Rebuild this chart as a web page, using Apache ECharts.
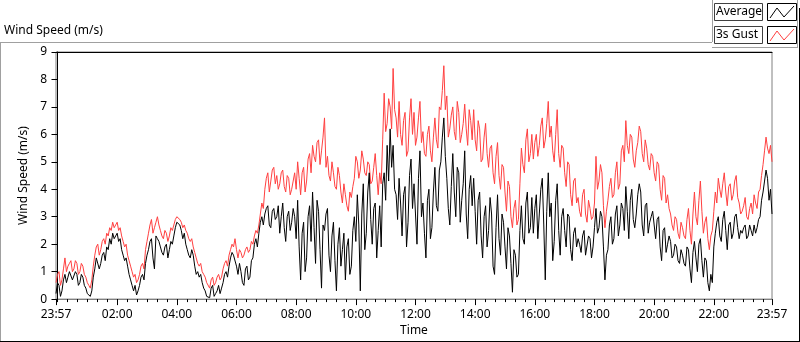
<!DOCTYPE html>
<html>
<head>
<meta charset="utf-8">
<script src="https://cdn.jsdelivr.net/npm/echarts@6/dist/echarts.min.js"></script>
<style>
html, body { margin: 0; padding: 0; background: #fff; }
#chart { width: 800px; height: 342px; }
</style>
</head>
<body>
<div id="chart"></div>
<script>
// one sample every 3 minutes; time is minutes after midnight, first sample at 23:57 (-3)
var startMinute = -3;
var endMinute = 1437;
var stepMinutes = 3;

var gust = [
    0.6,0.9, 1.0,0.5, 0.7,1.1, 1.5,1.0, 1.2,1.3, 1.4,1.0, 1.1,1.4, 1.3,0.9, 1.0,1.3, 1.2,0.9,
    0.8,0.6, 0.5,0.4, 0.7,1.2, 1.6,1.9, 2.0,1.6, 1.8,2.1, 2.2,2.0, 2.4,2.3, 2.6,2.5, 2.8,2.6,
    2.7,2.8, 2.5,2.6, 2.3,2.1, 1.9,2.0, 1.6,1.4, 1.2,1.0, 0.8,0.9, 0.6,0.7, 0.9,1.2, 1.3,1.1,
    1.8,2.1, 2.4,2.7, 2.9,2.4, 2.6,2.8, 3.0,2.7, 2.5,2.3, 2.2,2.5, 2.4,2.1, 2.3,2.6, 2.5,2.7,
    2.9,3.0, 3.05,2.9, 2.8,2.6, 2.7,2.5, 2.4,2.2, 2.1,2.2, 1.9,1.7, 1.5,1.3, 1.2,1.3, 1.0,0.9,
    0.8,0.6, 0.6,0.4, 0.7,0.8, 0.5,0.6, 0.8,0.9, 0.7,0.8, 1.1,1.3, 1.4,1.2, 1.6,1.8, 2.0,1.9,
    2.2,1.8, 1.5,1.8, 1.7,1.5, 1.6,1.8, 1.9,1.7, 1.8,2.1, 2.0,2.3, 2.5,2.4, 2.7,3.1, 3.5,3.3,
    4.0,4.4, 4.6,3.9, 4.3,4.7, 4.8,4.2, 4.5,4.0, 4.2,4.6, 4.7,4.1, 3.9,4.5, 4.4,3.8, 4.0,4.3,
    4.6,4.0, 5.0,4.4, 3.8,4.6, 4.8,3.9, 4.3,5.1, 5.3,4.6, 5.6,5.2, 5.0,5.7, 5.8,4.9, 5.4,5.9,
    6.6,4.8, 5.2,4.5, 4.3,5.0, 4.6,4.1, 4.0,4.8, 4.5,3.9, 3.5,4.2, 3.8,3.4, 3.2,3.9, 3.7,4.1,
    4.4,5.2, 5.0,4.4, 4.7,5.4, 5.1,4.6, 4.5,5.0, 4.9,4.2, 4.3,4.8, 5.3,4.5, 3.8,4.6, 4.2,5.8,
    7.5,6.1, 6.4,7.3, 7.0,6.2, 8.4,6.9, 6.6,5.9, 7.2,6.0, 5.6,6.5, 6.8,5.2, 5.4,6.6, 7.3,6.0,
    6.8,5.6, 5.9,6.6, 7.2,5.7, 6.1,5.3, 5.2,6.0, 6.3,5.4, 5.0,5.9, 6.6,5.8, 5.5,7.0, 6.9,7.6,
    8.5,6.9, 7.4,5.9, 6.2,6.7, 7.0,6.1, 5.8,7.2, 6.8,5.7, 6.0,6.4, 7.1,6.2, 5.6,6.9, 6.5,5.8,
    6.9,5.8, 5.4,6.5, 6.2,5.0, 5.1,5.9, 6.4,5.3, 4.8,5.5, 5.6,4.6, 4.2,5.2, 5.7,4.5, 4.0,4.9,
    4.8,3.9, 3.2,4.3, 4.1,3.0, 2.6,3.3, 3.6,2.7, 2.9,4.2, 5.5,4.9, 4.6,5.8, 6.2,5.0, 5.3,6.0,
    5.1,5.7, 6.0,5.2, 5.6,6.3, 6.6,5.5, 5.8,6.4, 7.2,5.9, 6.3,5.4, 5.0,6.0, 6.9,5.3, 4.8,5.6,
    5.5,4.6, 4.1,5.0, 4.9,3.8, 3.4,4.3, 4.4,3.5, 3.7,3.2, 3.0,3.8, 4.0,3.1, 2.8,3.6, 3.3,2.9,
    3.0,3.5, 5.2,4.0, 4.3,4.9, 4.6,3.4, 2.6,3.2, 3.6,4.1, 4.4,3.7, 3.8,4.6, 5.0,4.0, 4.2,5.4,
    5.6,5.0, 6.5,5.6, 5.3,6.0, 5.9,5.1, 4.8,5.4, 5.7,6.3, 6.1,5.3, 5.0,5.8, 5.5,4.9, 4.7,5.3,
    5.2,4.6, 4.3,5.0, 4.9,4.0, 3.6,4.5, 4.4,3.5, 3.8,3.3, 3.1,2.7, 2.5,3.0, 2.9,2.4, 2.2,2.8,
    2.6,2.3, 2.2,2.9, 3.3,2.5, 2.0,3.1, 3.9,3.0, 2.7,3.6, 4.3,3.2, 2.4,2.8, 3.0,2.2, 1.8,2.3,
    2.5,3.2, 3.9,3.5, 4.4,4.0, 3.7,4.2, 4.6,3.9, 3.4,4.1, 4.2,3.6, 3.8,4.3, 4.5,3.7, 3.5,3.1,
    3.2,3.4, 3.7,3.0, 2.9,3.3, 3.5,3.1, 3.8,3.5, 3.3,3.9, 4.0,4.5, 4.9,5.4, 5.9,5.5, 5.3,5.6, 5.0
];

var average = [
    0.2,0.6, 0.5,0.1, 0.3,0.7, 0.9,0.6, 0.8,1.0, 1.0,0.7, 0.7,1.0, 0.9,0.5, 0.6,0.9, 0.8,0.5,
    0.4,0.2, 0.15,0.1, 0.3,0.8, 1.1,1.5, 1.5,1.1, 1.3,1.6, 1.7,1.4, 1.9,1.8, 2.2,2.0, 2.4,2.2,
    2.3,2.4, 2.1,2.2, 1.8,1.6, 1.4,1.5, 1.2,0.9, 0.7,0.5, 0.3,0.5, 0.15,0.3, 0.5,0.8, 0.9,0.7,
    1.3,1.6, 1.8,2.1, 2.2,1.5, 1.1,2.3, 2.2,2.1, 1.9,1.7, 1.6,1.9, 2.0,1.5, 1.8,2.1, 2.0,2.3,
    2.6,2.8, 2.85,2.7, 2.5,2.2, 2.4,2.0, 1.8,1.6, 1.5,1.8, 1.6,1.2, 0.9,1.0, 0.8,0.9, 0.6,0.4,
    0.3,0.1, 0.15,0.05, 0.4,0.5, 0.1,0.2, 0.3,0.5, 0.2,0.4, 0.6,0.9, 1.0,0.8, 1.2,1.5, 1.7,1.6,
    1.6,1.2, 0.9,1.3, 1.0,0.6, 0.5,1.1, 1.2,0.7, 0.8,1.4, 1.5,2.0, 2.2,1.9, 2.4,2.8, 3.0,2.7,
    3.1,3.3, 3.4,2.7, 2.6,3.2, 3.3,2.9, 3.0,3.4, 2.4,3.0, 3.5,2.6, 2.1,3.0, 3.2,2.5, 2.8,3.3,
    3.0,2.2, 3.6,1.9, 0.7,2.4, 2.8,1.0, 1.5,3.0, 3.4,2.1, 3.9,2.6, 1.3,3.6, 3.2,1.8, 0.4,2.7,
    2.5,3.1, 3.3,1.6, 1.0,2.3, 2.8,1.4, 0.3,2.0, 2.6,1.2, 1.8,2.4, 0.7,1.9, 2.2,0.9, 1.2,2.5,
    3.0,2.1, 3.8,2.7, 0.3,3.1, 4.2,1.8, 2.4,3.9, 4.6,2.9, 2.0,3.3, 3.5,1.5, 2.5,3.4, 1.9,4.2,
    4.6,3.6, 5.6,4.3, 6.2,4.8, 5.6,4.0, 3.8,2.9, 4.4,3.5, 2.3,3.8, 4.1,1.9, 2.8,4.5, 5.1,3.3,
    4.2,3.1, 2.0,4.4, 5.4,3.0, 3.5,2.4, 1.5,3.6, 4.0,2.2, 2.6,3.9, 4.8,3.4, 3.2,4.7, 5.0,5.9,
    6.6,5.2, 4.4,3.3, 2.7,4.1, 5.3,3.9, 3.0,4.8, 4.6,2.8, 3.6,4.2, 5.4,3.1, 2.2,4.0, 4.5,3.4,
    4.4,3.2, 2.0,3.6, 3.9,2.3, 1.5,3.0, 3.4,1.9, 2.5,3.7, 3.1,1.2, 0.9,2.6, 3.8,2.2, 1.6,3.1,
    2.8,1.9, 1.1,2.6, 2.3,1.3, 0.25,1.8, 1.6,0.8, 0.9,2.5, 3.4,2.2, 2.0,3.5, 3.9,2.4, 2.6,3.7,
    2.4,3.3, 3.8,2.2, 3.1,4.0, 4.4,2.7, 0.7,3.2, 4.6,3.0, 3.5,1.4, 2.1,3.6, 4.2,2.5, 1.6,3.0,
    3.3,2.5, 1.9,3.1, 3.0,1.8, 1.4,2.4, 2.6,1.9, 2.2,2.0, 1.7,2.3, 2.5,1.6, 1.6,2.3, 2.2,1.5,
    1.9,2.6, 3.3,2.4, 2.6,3.2, 3.0,1.9, 0.7,1.6, 1.8,2.7, 3.0,2.0, 2.2,3.1, 3.4,2.3, 2.7,3.5,
    3.3,2.5, 4.1,3.2, 2.2,3.6, 4.0,2.9, 2.6,3.1, 3.8,4.2, 3.9,2.7, 2.3,3.4, 3.5,2.4, 2.8,3.0,
    3.2,2.7, 2.2,2.9, 3.0,1.9, 1.4,2.5, 2.6,1.7, 2.0,2.3, 2.1,1.5, 1.6,2.0, 1.9,1.4, 1.3,1.8,
    1.6,1.3, 1.2,1.9, 1.8,1.1, 0.6,1.7, 2.1,1.5, 1.0,2.0, 2.2,1.4, 0.8,1.5, 1.4,0.6, 0.3,0.9,
    0.6,1.9, 2.4,2.8, 3.0,2.3, 2.1,2.9, 3.2,2.5, 1.8,2.7, 2.8,2.2, 2.4,3.0, 3.1,2.6, 2.2,2.5,
    2.4,2.6, 2.7,2.2, 2.3,2.7, 2.5,2.3, 2.7,2.4, 2.6,2.9, 3.0,3.6, 3.9,4.3, 4.7,4.4, 3.6,4.0, 3.1
];

// labelled times (minutes after midnight) and the small 20-minute ticks
var labelMinutes = [-3, 120, 240, 360, 480, 600, 720, 840, 960, 1080, 1200, 1320, 1437];
var minorTickMinutes = [];
for (var m = 0; m < endMinute; m += 20) minorTickMinutes.push(m);

function pad(n) { return (n < 10 ? '0' : '') + n; }
function clock(min) {
    var t = ((Math.round(min) % 1440) + 1440) % 1440;
    return pad(Math.floor(t / 60)) + ':' + pad(t % 60);
}
function pairs(arr) {
    return arr.map(function (v, i) { return [startMinute + i * stepMinutes, v]; });
}

var font = 'Noto Sans';
var myChart = echarts.init(document.getElementById('chart'), null, {renderer: 'canvas'});

option = {
    animation: false,
    backgroundColor: '#fff',
    grid: {
        left: 56, right: 28, top: 52, bottom: 40,
        show: true, borderColor: '#808080', borderWidth: 1
    },
    xAxis: [
        {
            type: 'value', min: startMinute, max: endMinute, position: 'bottom',
            name: 'Time', nameLocation: 'middle', nameGap: 25,
            nameTextStyle: {fontFamily: font, fontSize: 12, color: '#000'},
            axisLine: {show: true, lineStyle: {color: '#808080'}},
            splitLine: {show: false},
            axisTick: {show: true, length: 6, lineStyle: {color: '#000'}, customValues: labelMinutes},
            axisLabel: {
                customValues: labelMinutes, margin: 9,
                fontFamily: font, fontSize: 12, color: '#000',
                formatter: clock
            }
        },
        {
            type: 'value', min: startMinute, max: endMinute, position: 'bottom',
            axisLine: {show: false},
            splitLine: {show: false},
            axisLabel: {show: false},
            axisTick: {show: true, length: 3, lineStyle: {color: '#000'}, customValues: minorTickMinutes}
        },
        {
            type: 'value', min: startMinute, max: endMinute, position: 'top',
            axisLine: {show: true, lineStyle: {color: '#000'}},
            splitLine: {show: false},
            axisLabel: {show: false},
            axisTick: {show: false}
        }
    ],
    yAxis: {
        type: 'value', min: 0, max: 9, interval: 1,
        name: 'Wind Speed (m/s)', nameLocation: 'middle', nameGap: 19,
        nameTextStyle: {fontFamily: font, fontSize: 12, color: '#000'},
        axisLine: {show: true, lineStyle: {color: '#000'}},
        axisTick: {show: true, length: 6, lineStyle: {color: '#000'}},
        splitLine: {show: false},
        axisLabel: {margin: 9, fontFamily: font, fontSize: 12, color: '#000'}
    },
    series: [
        {
            name: '3s Gust', type: 'line', xAxisIndex: 0,
            data: pairs(gust), showSymbol: false, symbol: 'none',
            lineStyle: {color: '#ff4040', width: 1}
        },
        {
            name: 'Average', type: 'line', xAxisIndex: 0,
            data: pairs(average), showSymbol: false, symbol: 'none',
            lineStyle: {color: '#000', width: 1}
        }
    ],
    graphic: [
        // panel frame
        {type: 'line', shape: {x1: 0, y1: 42.5, x2: 712, y2: 42.5}, style: {stroke: '#a0a0a0', lineWidth: 1}},
        {type: 'line', shape: {x1: 0.5, y1: 42, x2: 0.5, y2: 342}, style: {stroke: '#a0a0a0', lineWidth: 1}},
        {type: 'line', shape: {x1: 799.5, y1: 8, x2: 799.5, y2: 342}, style: {stroke: '#000', lineWidth: 1}},
        {type: 'line', shape: {x1: 0, y1: 341.5, x2: 800, y2: 341.5}, style: {stroke: '#000', lineWidth: 1}},
        {type: 'line', shape: {x1: 712.5, y1: 0, x2: 712.5, y2: 42}, style: {stroke: '#a0a0a0', lineWidth: 1}},
        {type: 'line', shape: {x1: 712, y1: 47.5, x2: 798, y2: 47.5}, style: {stroke: '#a0a0a0', lineWidth: 1}},
        {type: 'line', shape: {x1: 797.5, y1: 0, x2: 797.5, y2: 48}, style: {stroke: '#a0a0a0', lineWidth: 1}},
        // title
        {type: 'text', left: 4, top: 25, style: {text: 'Wind Speed (m/s)', font: '12px "Noto Sans"', fill: '#000'}},
        // legend
        {type: 'rect', shape: {x: 714.5, y: 3.5, width: 48, height: 17}, style: {fill: '#fff', stroke: '#404040', lineWidth: 1}},
        {type: 'text', x: 716, y: 12, style: {text: 'Average', font: '12px "Noto Sans"', fill: '#000', verticalAlign: 'middle'}},
        {type: 'rect', shape: {x: 767.5, y: 3.5, width: 29, height: 17}, style: {fill: '#fff', stroke: '#000', lineWidth: 1}},
        {type: 'polyline', shape: {points: [[770, 18], [777, 8], [784, 17], [794, 6]]}, style: {stroke: '#000', lineWidth: 1, fill: null}},
        {type: 'rect', shape: {x: 714.5, y: 26.5, width: 48, height: 17}, style: {fill: '#fff', stroke: '#404040', lineWidth: 1}},
        {type: 'text', x: 716, y: 35, style: {text: '3s Gust', font: '12px "Noto Sans"', fill: '#000', verticalAlign: 'middle'}},
        {type: 'rect', shape: {x: 767.5, y: 26.5, width: 29, height: 17}, style: {fill: '#fff', stroke: '#000', lineWidth: 1}},
        {type: 'polyline', shape: {points: [[770, 41], [777, 31], [784, 40], [794, 29]]}, style: {stroke: '#ff4040', lineWidth: 1, fill: null}}
    ]
};

myChart.setOption(option);
</script>
</body>
</html>
